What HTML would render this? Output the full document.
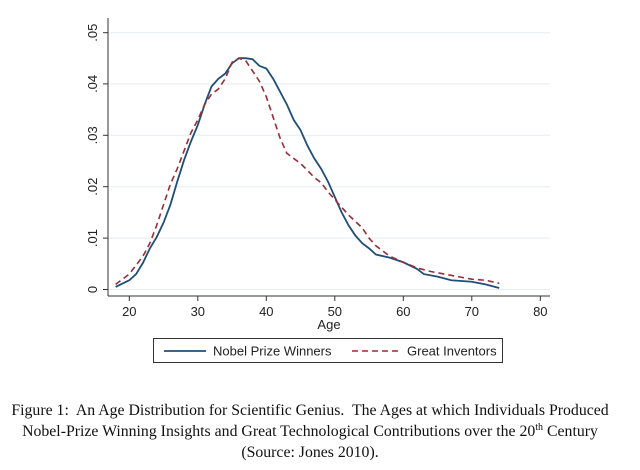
<!DOCTYPE html>
<html><head><meta charset="utf-8"><style>
body{margin:0;background:#fff;width:640px;height:470px;overflow:hidden}
.cap{position:absolute;left:0;width:620px;text-align:center;font-family:"Liberation Serif",serif;font-size:15.8px;line-height:18px;color:#111;white-space:nowrap}
sup{font-size:10px;line-height:0;vertical-align:6px}
</style></head><body>
<svg width="640" height="470" style="position:absolute;left:0;top:0" font-family="Liberation Sans, sans-serif">
<g stroke="#e3edf0" stroke-width="1">
<line x1="108" x2="550" y1="238.1" y2="238.1"/><line x1="108" x2="550" y1="186.7" y2="186.7"/>
<line x1="108" x2="550" y1="135.3" y2="135.3"/><line x1="108" x2="550" y1="83.9" y2="83.9"/>
<line x1="108" x2="550" y1="32.7" y2="32.7"/><line x1="108" x2="550" y1="289.5" y2="289.5"/>
</g>
<g stroke="#333" stroke-width="1" fill="none">
<line x1="108" y1="18" x2="108" y2="296"/><line x1="108" y1="296" x2="550" y2="296"/>
<line x1="103" x2="108" y1="289.5" y2="289.5"/><line x1="103" x2="108" y1="238.1" y2="238.1"/>
<line x1="103" x2="108" y1="186.7" y2="186.7"/><line x1="103" x2="108" y1="135.3" y2="135.3"/>
<line x1="103" x2="108" y1="83.9" y2="83.9"/><line x1="103" x2="108" y1="32.7" y2="32.7"/>
<line y1="296" y2="301" x1="129.3" x2="129.3"/><line y1="296" y2="301" x1="197.8" x2="197.8"/>
<line y1="296" y2="301" x1="266.3" x2="266.3"/><line y1="296" y2="301" x1="334.8" x2="334.8"/>
<line y1="296" y2="301" x1="403.3" x2="403.3"/><line y1="296" y2="301" x1="471.8" x2="471.8"/>
<line y1="296" y2="301" x1="540.3" x2="540.3"/>
</g>
<g font-size="13" fill="#222" text-anchor="middle">
<text x="129.3" y="316">20</text><text x="197.8" y="316">30</text><text x="266.3" y="316">40</text>
<text x="334.8" y="316">50</text><text x="403.3" y="316">60</text><text x="471.8" y="316">70</text>
<text x="540.3" y="316">80</text><text x="329" y="329">Age</text>
<text transform="translate(97,289.5) rotate(-90)">0</text>
<text transform="translate(97,238.1) rotate(-90)">.01</text>
<text transform="translate(97,186.7) rotate(-90)">.02</text>
<text transform="translate(97,135.3) rotate(-90)">.03</text>
<text transform="translate(97,83.9) rotate(-90)">.04</text>
<text transform="translate(97,32.7) rotate(-90)">.05</text>
</g>
<g transform="translate(-7.7,289.5) scale(6.85,-5140)" fill="none">
<polyline vector-effect="non-scaling-stroke" stroke="#1f4e79" stroke-width="1.8" points="18,.0005 20,.0018 21,.003 22,.0052 23,.008 24,.0102 25,.013 26,.0165 27,.021 28,.0252 29,.0288 30,.032 31,.036 32,.0395 33,.041 34,.042 35,.044 36,.045 37,.045 38,.0448 39,.0435 40,.043 41,.041 42,.0385 43,.036 44,.033 45,.031 46,.028 47,.0255 48,.0235 49,.021 50,.018 51,.015 52,.0125 53,.0105 54,.009 55,.008 56,.0068 58,.0062 60,.0053 62,.004 63,.003 65,.0025 67,.0018 70,.0015 72,.001 74,.0003"/>
<polyline vector-effect="non-scaling-stroke" stroke="#9b2c34" stroke-width="1.6" stroke-dasharray="6,4" points="18,.001 20,.003 22,.0065 23,.009 24,.0125 25,.0165 26,.0205 27,.0235 28,.027 29,.0305 30,.033 31,.036 32,.038 33,.039 34,.041 35,.0442 36,.045 37,.0445 38,.0425 39,.0405 40,.0375 41,.0335 42,.0295 43,.0265 44,.0255 45,.0245 46,.0232 47,.0218 48,.0208 49,.019 50,.0175 52,.0145 54,.012 55,.01 56,.0085 58,.0065 60,.0053 62,.0042 64,.0035 66,.003 68,.0025 70,.002 72,.0018 74,.0012"/>
</g>
<rect x="153.5" y="338.5" width="349" height="24" fill="#fff" stroke="#333"/>
<line x1="164" x2="206" y1="351" y2="351" stroke="#1f4e79" stroke-width="1.8"/>
<line x1="352" x2="400" y1="351" y2="351" stroke="#9b2c34" stroke-width="1.6" stroke-dasharray="6,4"/>
<g font-size="13" fill="#222"><text x="213" y="355.5">Nobel Prize Winners</text><text x="407" y="355.5">Great Inventors</text></g>
</svg>
<div class="cap" style="top:402px">Figure 1:&nbsp; An Age Distribution for Scientific Genius.&nbsp; The Ages at which Individuals Produced</div>
<div class="cap" style="top:423px">Nobel-Prize Winning Insights and Great Technological Contributions over the 20<sup>th</sup> Century</div>
<div class="cap" style="top:444px">(Source: Jones 2010).</div>
</body></html>
